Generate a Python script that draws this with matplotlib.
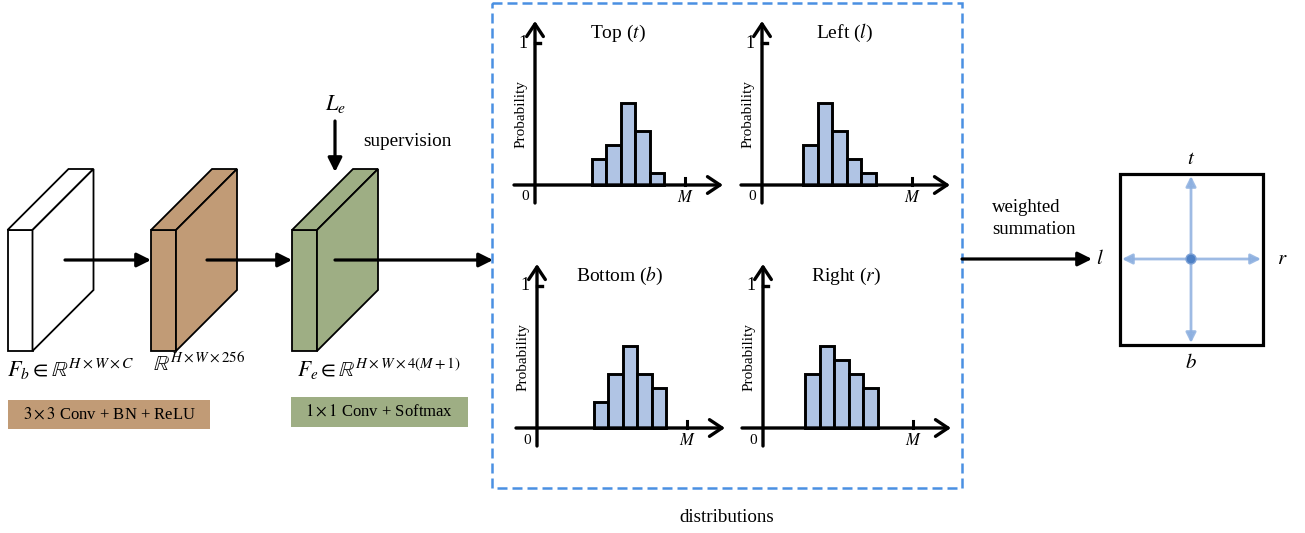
import matplotlib
matplotlib.use('Agg')
import matplotlib.pyplot as plt
from matplotlib.patches import Polygon, Rectangle, Circle

plt.rcParams['font.family'] = ['Liberation Serif', 'DejaVu Serif']
plt.rcParams['mathtext.fontset'] = 'stix'

W, H = 1305, 533

# histogram data (probability of each bin)
titles = ['Top ($t$)', 'Left ($l$)', 'Bottom ($b$)', 'Right ($r$)']
starts = [3.9, 2.85, 3.9, 2.9]          # first non-empty bin
probs = [
    [0.18, 0.28, 0.58, 0.38, 0.085],
    [0.28, 0.58, 0.38, 0.18, 0.085],
    [0.185, 0.38, 0.58, 0.38, 0.285],
    [0.38, 0.58, 0.48, 0.38, 0.285],
]
origins = [(535, 185), (762, 185), (537, 428), (763, 428)]  # pixel position of (0,0)
M_pos = 10.35
bw_px = 14.5     # pixels per bin
py_px = 142.0    # pixels per unit probability

block_x = [7.5, 151, 292]
block_col = ['white', '#C19B76', '#9EAE84']

fig = plt.figure(figsize=(W / 100, H / 100), dpi=100)
ax = fig.add_axes([0, 0, 1, 1])
ax.set_xlim(0, W)
ax.set_ylim(H, 0)
ax.axis('off')

# feature blocks
d = 61
for x0, c in zip(block_x, block_col):
    front = Polygon([(x0, 230), (x0 + 25, 230), (x0 + 25, 351), (x0, 351)], closed=True,
                    fc=c, ec='k', lw=1.3)
    top = Polygon([(x0, 230), (x0 + d, 230 - d), (x0 + 25 + d, 230 - d), (x0 + 25, 230)],
                  closed=True, fc=c, ec='k', lw=1.3)
    side = Polygon([(x0 + 25, 230), (x0 + 25 + d, 230 - d), (x0 + 25 + d, 351 - d), (x0 + 25, 351)],
                   closed=True, fc=c, ec='k', lw=1.3)
    for p in (front, top, side):
        ax.add_patch(p)

flow = dict(arrowstyle='-|>,head_length=0.6,head_width=0.3', lw=2.3, color='k',
            mutation_scale=14, shrinkA=0, shrinkB=0)
ax.annotate('', xy=(151, 260), xytext=(65, 260), arrowprops=flow)
ax.annotate('', xy=(292, 260), xytext=(207, 260), arrowprops=flow)
ax.annotate('', xy=(493, 260), xytext=(335, 260), arrowprops=flow)
ax.annotate('', xy=(335, 172), xytext=(335, 121), arrowprops=flow)
ax.annotate('', xy=(1092, 259), xytext=(962, 259), arrowprops=flow)

ax.text(335, 104, r'$L_e$', fontsize=16, ha='center', va='center')
ax.text(363, 142, 'supervision', fontsize=13.8, ha='left', va='center')

ax.text(7, 369, r'$F_b \in \mathbb{R}^{H\times W\times C}$', fontsize=16, ha='left', va='center')
ax.text(153, 364, r'$\mathbb{R}^{H\times W\times 256}$', fontsize=15.5, ha='left', va='center')
ax.text(297, 369, r'$F_e \in \mathbb{R}^{H\times W\times 4(M+1)}$', fontsize=15.5, ha='left', va='center')

ax.add_patch(Rectangle((8, 400), 202, 29, fc='#C19B76', ec='none'))
ax.text(109, 414.5, r'$3\times 3$ Conv + BN + ReLU', fontsize=12, ha='center', va='center')
ax.add_patch(Rectangle((291, 397), 177, 30, fc='#9EAE84', ec='none'))
ax.text(379.5, 412, r'$1\times 1$ Conv + Softmax', fontsize=12, ha='center', va='center')

# dashed box around distributions
ax.add_patch(Rectangle((492, 3), 470, 485, fill=False, ec='#4A90E2', lw=1.8,
                       linestyle=(0, (4, 2))))
ax.text(727, 517, 'distributions', fontsize=13.7, ha='center', va='center')

ax.text(992, 207, 'weighted', fontsize=13.5, ha='left', va='center')
ax.text(992, 229, 'summation', fontsize=13.5, ha='left', va='center')

# box with ltrb
bx0, bx1, by0, by1 = 1120, 1263, 174, 345
cx, cy = 1191, 259
ax.add_patch(Rectangle((bx0, by0), bx1 - bx0, by1 - by0, fill=False, ec='k', lw=2.3))
light = dict(arrowstyle='-|>,head_length=0.5,head_width=0.25', lw=2, color='#8DB0E0',
             alpha=0.85, mutation_scale=12, shrinkA=0, shrinkB=0)
for tx, ty in [(cx, by0 + 2), (cx, by1 - 2), (bx0 + 2, cy), (bx1 - 2, cy)]:
    ax.annotate('', xy=(tx, ty), xytext=(cx, cy), arrowprops=light)
ax.add_patch(Circle((cx, cy), 5, fc='#4E80C4', ec='#7FA3D8', lw=1, zorder=5))
ax.text(cx, 160, r'$t$', fontsize=15, ha='center', va='center')
ax.text(cx, 363, r'$b$', fontsize=15, ha='center', va='center')
ax.text(1100, 259, r'$l$', fontsize=15, ha='center', va='center')
ax.text(1282, 259, r'$r$', fontsize=15, ha='center', va='center')

# histogram panels
open_arrow = dict(arrowstyle='->,head_length=0.45,head_width=0.3', lw=2.4, color='k',
                  mutation_scale=20, shrinkA=0, shrinkB=0)
for (ox, oy), ttl, st, pr in zip(origins, titles, starts, probs):
    left_px, right_px, below_px, above_px = 30, 200, 25, 172
    hax = fig.add_axes([(ox - left_px) / W, (H - (oy + below_px)) / H,
                        (left_px + right_px) / W, (below_px + above_px) / H])
    hax.set_xlim(-left_px / bw_px, right_px / bw_px)
    hax.set_ylim(-below_px / py_px, above_px / py_px)
    hax.axis('off')
    xs = [st + i for i in range(len(pr))]
    hax.bar(xs, pr, width=1, align='edge', color='#B0C4E4', edgecolor='k', lw=2.1, zorder=2)
    hax.annotate('', xy=(188 / bw_px, 0), xytext=(-21 / bw_px, 0), arrowprops=open_arrow)
    hax.annotate('', xy=(0, 164 / py_px), xytext=(0, -18 / py_px), arrowprops=open_arrow)
    hax.plot([0, 5 / bw_px], [1, 1], color='k', lw=2.4)
    hax.plot([M_pos, M_pos], [0, 7 / py_px], color='k', lw=2.2)
    hax.text(-10 / bw_px, -12 / py_px, '0', fontsize=11, ha='center', va='center')
    hax.text(M_pos, -13 / py_px, r'$M$', fontsize=12, ha='center', va='center')
    hax.text(-12 / bw_px, 1.0, '1', fontsize=13, ha='center', va='center')
    hax.text(-14 / bw_px, 0.5, 'Probability', fontsize=11, rotation=90, ha='center', va='center')
    hax.text(83 / bw_px, 1.07, ttl, fontsize=14, ha='center', va='center')

fig.savefig('out.png', dpi=100)
